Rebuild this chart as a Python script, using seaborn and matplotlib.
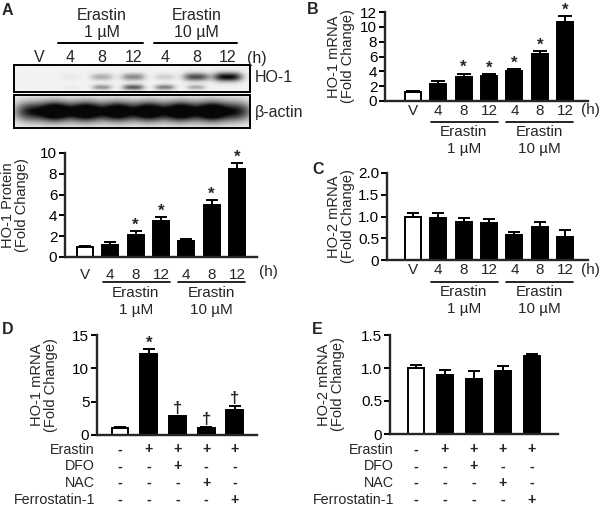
import numpy as np
import pandas as pd
import seaborn as sns
import matplotlib.pyplot as plt
from matplotlib import transforms

sns.set_theme(style="ticks")
plt.rcParams['font.family'] = ['Liberation Sans', 'DejaVu Sans']

W, H = 600, 508

# dane
time_labels = ["V", "4", "8", "12", "4", "8", "12"]
dose_labels = ["Erastin\n1 \u00b5M", "Erastin\n10 \u00b5M"]

# intensywnosc pasm na blocie (0..1)
ho1_upper = [0.0, 0.04, 0.3, 0.45, 0.15, 0.7, 1.0]
ho1_lower = [0.0, 0.03, 0.4, 0.65, 0.5, 0.3, 0.0]
actin = [1.0, 1.0, 0.95, 0.95, 0.95, 1.0, 1.0]

prot_mean = [1.0, 1.2, 2.1, 3.5, 1.55, 5.0, 8.5]
prot_err = [0.1, 0.25, 0.4, 0.3, 0.2, 0.5, 0.5]
prot_mark = ["", "", "*", "*", "", "*", "*"]

ho1_mean = [1.2, 2.3, 3.3, 3.4, 4.0, 6.3, 10.7]
ho1_err = [0.2, 0.35, 0.4, 0.2, 0.25, 0.4, 0.7]
ho1_mark = ["", "", "*", "*", "*", "*", "*"]

ho2_mean = [1.0, 0.97, 0.88, 0.84, 0.58, 0.75, 0.53]
ho2_err = [0.08, 0.12, 0.08, 0.1, 0.07, 0.12, 0.15]
ho2_mark = [""] * 7

treat_rows = ["Erastin", "DFO", "NAC", "Ferrostatin-1"]
treat_table = [["-", "+", "+", "+", "+"],
               ["-", "-", "+", "-", "-"],
               ["-", "-", "-", "+", "-"],
               ["-", "-", "-", "-", "+"]]

d_mean = [1.0, 12.2, 2.8, 1.0, 3.8]
d_err = [0.2, 0.7, 0.1, 0.2, 0.5]
d_mark = ["", "*", "\u2020", "\u2020", "\u2020"]

e_mean = [1.0, 0.9, 0.84, 0.96, 1.18]
e_err = [0.05, 0.07, 0.12, 0.07, 0.03]
e_mark = [""] * 5

fig = plt.figure(figsize=(W / 100, H / 100), dpi=100)
LW = 1.4
FS = 11
YL = 10.5


def px_axes(l, t, r, b):
    return fig.add_axes([l / W, 1 - b / H, (r - l) / W, (b - t) / H])


def fy(py):
    return 1 - py / H


def bars(ax, means, errs, marks, width, xlim, ylim, yticks, yticklabels, ylabel, label_x, capsize=4):
    n = len(means)
    df = pd.DataFrame({"cond": [str(i) for i in range(n)], "val": means})
    colors = ["white"] + ["black"] * (n - 1)
    sns.barplot(data=df, x="cond", y="val", hue="cond", palette=colors, legend=False,
                width=width, edgecolor="black", linewidth=LW, saturation=1, ax=ax)
    ax.errorbar(range(n), means, yerr=[np.zeros(n), errs], fmt="none", ecolor="black",
                elinewidth=LW, capsize=capsize, capthick=LW, zorder=1)
    for i, m in enumerate(marks):
        if m == "*":
            ax.annotate(m, (i, means[i] + errs[i]), xytext=(0, 1), textcoords="offset points",
                        ha="center", va="baseline", fontsize=12, fontweight="bold")
        elif m:
            ax.annotate(m, (i, means[i] + errs[i]), xytext=(0, 0), textcoords="offset points",
                        ha="center", va="bottom", fontsize=12, fontweight="bold")
    ax.set_xlim(*xlim)
    ax.set_ylim(*ylim)
    ax.set_yticks(yticks)
    ax.set_yticklabels(yticklabels, fontsize=FS)
    ax.set_ylabel(ylabel, fontsize=YL, linespacing=1.0)
    ax.yaxis.set_label_coords(label_x, 0.5)
    ax.set_xlabel("")
    sns.despine(ax=ax)
    for s in ["left", "bottom"]:
        ax.spines[s].set_linewidth(LW + 0.3)
    ax.tick_params(axis="y", length=4, width=LW, pad=1.5, colors="black")
    ax.tick_params(axis="x", length=0)


def time_axis(ax, pad, lab_y, line_y, erastin_y, h_x):
    ax.set_xticks(range(len(time_labels)))
    ax.set_xticklabels(time_labels, fontsize=FS)
    ax.tick_params(axis="x", pad=pad)
    tr = transforms.blended_transform_factory(ax.transData, fig.transFigure)
    for x0, x1, xc, lab in [(0.7, 3.35, 2, dose_labels[0]), (3.68, 6.3, 5, dose_labels[1])]:
        ax.plot([x0, x1], [fy(line_y), fy(line_y)], color="black", lw=1.2,
                transform=tr, clip_on=False)
        ax.text(xc, fy(erastin_y), lab, transform=tr, ha="center", va="top",
                fontsize=FS, linespacing=1.25)
    fig.text(h_x / W, fy(lab_y), "(h)", ha="right", va="center", fontsize=FS)


# ---------------- A: blot ----------------
lane_xlim = (-0.79, 6.7)
xs = np.linspace(*lane_xlim, 400)
ys = np.linspace(0, 1, 60)
X, Y = np.meshgrid(xs, ys)


def blot(ax, bands):
    dark = np.zeros_like(X)
    for vals, y0, sx, sy in bands:
        for i, a in enumerate(vals):
            grow = 1 + 0.5 * a
            dark += a * np.exp(-np.abs((X - i) / (sx * grow)) ** 3) * \
                np.exp(-((Y - y0) / (sy * grow)) ** 2)
    img = 0.95 - 0.92 * np.clip(dark, 0, 1)
    ax.imshow(img, cmap="gray", vmin=0, vmax=1, extent=[*lane_xlim, 0, 1],
              origin="lower", aspect="auto", interpolation="bilinear")
    ax.set_xlim(*lane_xlim)
    ax.set_ylim(0, 1)
    ax.set_xticks([])
    ax.set_yticks([])
    for s in ax.spines.values():
        s.set_linewidth(LW)
        s.set_color("black")


ax_ho = px_axes(14, 65, 250, 92)
blot(ax_ho, [(ho1_upper, 0.56, 0.3, 0.11), (ho1_lower, 0.17, 0.25, 0.08)])
ax_ac = px_axes(14, 95, 250, 128)
blot(ax_ac, [(actin, 0.5, 0.5, 0.2)])

fig.text(255 / W, fy(78), "HO-1", ha="left", va="center", fontsize=FS + 0.5)
fig.text(255 / W, fy(112), "\u03b2-actin", ha="left", va="center", fontsize=FS + 0.5)

tr = transforms.blended_transform_factory(ax_ho.transData, fig.transFigure)
for i, lab in enumerate(time_labels):
    ax_ho.text(i, fy(58), lab, transform=tr, ha="center", va="center", fontsize=FS + 0.5)
fig.text(247 / W, fy(58), "(h)", ha="left", va="center", fontsize=FS + 0.5)
for x0, x1, xc, lab in [(0.6, 3.3, 2, dose_labels[0]), (3.65, 6.3, 5, dose_labels[1])]:
    ax_ho.plot([x0, x1], [fy(43), fy(43)], transform=tr, color="black", lw=1.4, clip_on=False)
    ax_ho.text(xc, fy(8), lab, transform=tr, ha="center", va="top", fontsize=FS + 0.5,
               linespacing=1.2)

# ---------------- A: bar ----------------
ax_a = px_axes(65, 153, 257, 257)
bars(ax_a, prot_mean, prot_err, prot_mark, 0.63, (-0.79, 6.79), (0, 10),
     [0, 2, 4, 6, 8, 10], ["0", "2", "4", "6", "8", "10"],
     "HO-1 Protein\n(Fold Change)", -0.19)
time_axis(ax_a, 8, 272, 282, 286, 278)

# ---------------- B ----------------
ax_b = px_axes(385, 12, 588, 101)
bars(ax_b, ho1_mean, ho1_err, ho1_mark, 0.63, (-1.1, 6.9), (0, 12),
     [0, 2, 4, 6, 8, 10, 12], ["0", "2", "4", "6", "8", "10", "12"],
     "HO-1 mRNA\n(Fold Change)", -0.15, capsize=5)
time_axis(ax_b, 2.5, 110, 122, 125, 600)

# ---------------- C ----------------
ax_c = px_axes(387, 173, 588, 260)
bars(ax_c, ho2_mean, ho2_err, ho2_mark, 0.63, (-1.02, 6.9), (0, 2),
     [0, 0.5, 1.0, 1.5, 2.0], ["0", "0.5", "1.0", "1.5", "2.0"],
     "HO-2 mRNA\n(Fold Change)", -0.16)
time_axis(ax_c, 2.5, 270, 282, 285, 600)


# ---------------- D / E ----------------
def treat_axis(ax, label_right):
    ax.set_xticks([])
    tr = transforms.blended_transform_factory(ax.transData, fig.transFigure)
    for r, (name, row) in enumerate(zip(treat_rows, treat_table)):
        yy = fy(449.5 + r * 16.8)
        fig.text(label_right / W, yy, name, ha="right", va="center", fontsize=10.3)
        for i, s in enumerate(row):
            ax.text(i, yy, s, transform=tr, ha="center", va="center", fontsize=10.3,
                    fontweight="bold")


ax_d = px_axes(97, 335, 257, 435)
bars(ax_d, d_mean, d_err, d_mark, 0.59, (-0.8, 4.77), (0, 15),
     [0, 5, 10, 15], ["0", "5", "10", "15"],
     "HO-1 mRNA\n(Fold Change)", -0.245)
treat_axis(ax_d, 95)

ax_e = px_axes(390, 335, 558, 434)
bars(ax_e, e_mean, e_err, e_mark, 0.56, (-0.9, 4.9), (0, 1.5),
     [0, 0.5, 1.0, 1.5], ["0", "0.5", "1.0", "1.5"],
     "HO-2 mRNA\n(Fold Change)", -0.265)
treat_axis(ax_e, 394)

# litery paneli
for x, y, t in [(2, 3, "A"), (307, 2, "B"), (312, 162, "C"), (2, 322, "D"), (312, 322, "E")]:
    fig.text(x / W, fy(y), t, ha="left", va="top", fontsize=11.5, fontweight="bold")

plt.savefig("out.png", dpi=100)
plt.close()
